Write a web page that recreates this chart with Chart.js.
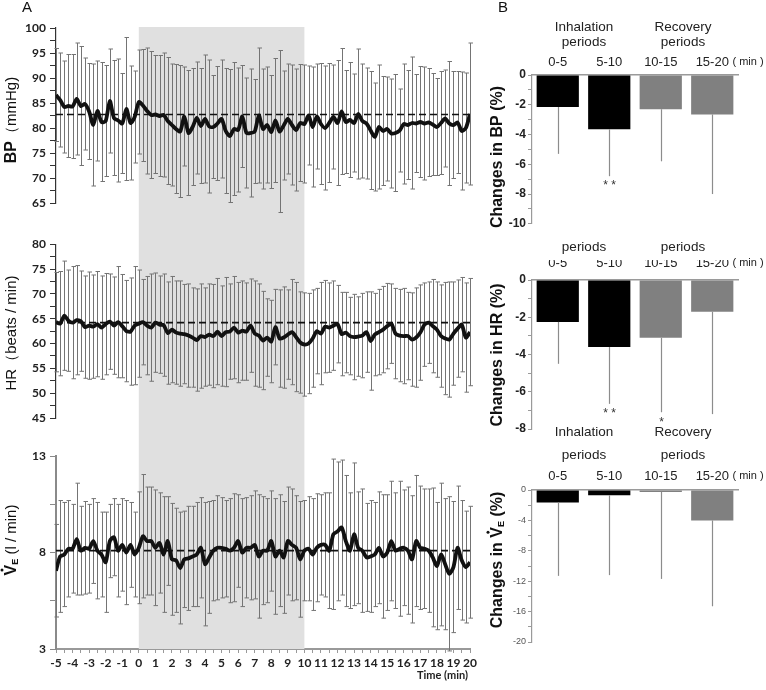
<!DOCTYPE html>
<html>
<head>
<meta charset="utf-8">
<script src="https://cdn.jsdelivr.net/npm/chart.js@4.4.1/dist/chart.umd.min.js"></script>
<style>
  body { margin: 0; background: #fff; width: 766px; height: 690px; position: relative; overflow: hidden; }
  canvas { position: absolute; }
</style>
</head>
<body>
<canvas id="bpLine" width="480" height="233" style="left:0;top:0"></canvas>
<canvas id="hrLine" width="480" height="212" style="left:0;top:233px"></canvas>
<canvas id="veLine" width="480" height="245" style="left:0;top:445px"></canvas>
<canvas id="bpBar" width="286" height="233" style="left:480px;top:0"></canvas>
<canvas id="hrBar" width="286" height="212" style="left:480px;top:233px"></canvas>
<canvas id="veBar" width="286" height="245" style="left:480px;top:445px"></canvas>
<script>
// time points (min), one every 15 s
const times = [-5,-4.75,-4.5,-4.25,-4,-3.75,-3.5,-3.25,-3,-2.75,-2.5,-2.25,-2,-1.75,-1.5,-1.25,-1,-0.75,-0.5,-0.25,
  0,0.25,0.5,0.75,1,1.25,1.5,1.75,2,2.25,2.5,2.75,3,3.25,3.5,3.75,4,4.25,4.5,4.75,
  5,5.25,5.5,5.75,6,6.25,6.5,6.75,7,7.25,7.5,7.75,8,8.25,8.5,8.75,9,9.25,9.5,9.75,
  10,10.25,10.5,10.75,11,11.25,11.5,11.75,12,12.25,12.5,12.75,13,13.25,13.5,13.75,14,14.25,14.5,14.75,
  15,15.25,15.5,15.75,16,16.25,16.5,16.75,17,17.25,17.5,17.75,18,18.25,18.5,18.75,19,19.25,19.5,19.75,20];

// Panel A - BP (mmHg)
const bpMean = [86.6,85.6,84.2,84.4,84.3,85.8,84.4,84.8,83.3,80.6,
  83.4,81.2,81.4,85.4,82.0,81.5,80.9,83.8,81.0,82.2,
  85.2,84.5,83.4,82.6,82.7,82.4,82.6,81.4,80.6,79.8,
  79.3,82.3,79.0,80.2,82.0,80.4,81.8,80.3,80.2,80.9,
  81.8,79.4,78.4,79.8,79.6,82.3,79.0,79.0,79.3,82.5,
  79.8,80.6,79.2,81.5,79.3,80.5,81.8,80.6,79.6,81.0,
  80.8,82.5,80.2,82.3,80.8,80.0,81.0,82.2,81.0,83.3,
  81.2,81.6,81.0,82.8,81.4,80.9,79.5,78.2,80.2,79.4,
  79.8,78.9,79.0,79.5,80.8,80.6,81.0,80.9,81.2,80.9,
  81.1,80.7,80.2,81.0,81.9,80.9,80.6,81.1,79.4,80.0,82.8];
const bpSD = [9.3,9.4,9.2,10.3,10.4,11.2,11.9,9.2,9.6,12.2,
  10.0,11.9,11.1,10.4,11.5,12.3,10.0,14.3,11.4,9.2,
  10.4,11.2,12.6,12.7,11.8,12.1,12.4,12.7,12.2,12.9,
  13.2,9.9,12.5,11.7,11.2,11.5,12.8,13.3,10.3,11.4,
  11.8,12.5,13.3,13.3,12.4,10.2,11.0,12.8,10.4,13.5,
  12.0,11.6,11.3,12.4,16.2,10.9,11.0,12.0,12.2,11.7,
  11.8,9.9,12.0,10.5,12.1,12.4,11.9,10.4,12.5,12.6,
  10.3,11.5,9.8,13.0,11.4,11.1,11.8,10.8,12.4,10.9,
  10.4,10.9,11.7,8.3,12.0,10.9,13.2,9.8,11.1,11.3,
  10.8,10.2,9.7,10.3,9.7,12.4,10.7,10.2,11.8,11.0,14.2];
const bpBase = 82.7;

// Panel A - HR (beats / min)
const hrMean = [64.3,64.0,65.6,64.6,64.2,64.7,64.5,63.3,63.6,63.4,
  63.9,63.2,63.9,64.4,63.6,64.3,63.5,62.5,62.4,63.6,
  64.0,64.3,63.6,63.2,64.2,63.8,63.7,62.1,62.8,62.2,
  62.0,61.9,61.6,61.2,60.7,61.5,61.3,61.8,61.5,62.4,
  61.5,62.3,62.4,63.2,62.2,62.6,62.4,63.6,62.0,61.6,
  60.6,61.2,60.4,63.3,61.0,61.2,61.8,62.3,61.3,60.2,
  59.8,60.0,61.0,62.5,62.0,63.4,63.2,63.6,63.9,61.9,
  62.2,61.5,61.3,61.4,61.6,62.3,60.5,61.8,62.3,62.8,
  63.5,64.0,62.0,61.6,61.5,61.5,60.8,61.2,62.2,63.8,
  64.2,63.5,62.8,61.5,61.0,60.8,62.0,63.0,63.8,61.2,62.3];
const hrSD = [10.0,10.5,11.0,10.2,11.3,11.0,10.1,10.3,10.8,10.4,
  10.6,10.4,10.2,9.6,9.8,11.2,10.4,10.2,10.8,11.9,
  10.8,8.6,9.9,10.8,10.0,9.8,10.3,10.3,10.7,10.4,
  10.6,10.0,10.4,10.0,10.3,10.5,9.9,10.2,10.4,10.7,
  10.1,11.0,9.6,10.3,10.1,10.0,9.8,9.4,10.6,10.4,
  9.9,7.8,8.3,7.6,9.8,10.2,9.0,10.6,11.0,10.2,
  10.4,10.1,9.8,8.6,10.3,9.3,9.0,9.0,7.8,8.4,
  8.1,7.8,8.6,8.0,8.5,8.1,9.9,8.3,8.6,8.7,
  8.6,8.0,9.1,9.3,9.6,8.8,9.4,10.0,9.6,8.4,
  8.2,9.4,9.6,10.3,11.3,11.6,10.4,9.8,9.5,11.0,10.8];
const hrBase = 64.2;

// Panel A - VE (l / min)
const veMean = [7.06,7.8,7.9,8.2,8.2,8.7,8.1,8.25,8.2,8.6,
  8.1,7.9,7.5,8.6,8.8,8.1,8.4,8.0,8.4,7.9,
  8.25,8.85,8.6,8.6,8.25,8.5,7.9,8.6,7.65,7.6,
  7.2,7.65,7.7,7.8,7.9,8.25,7.4,7.75,8.1,8.25,
  8.25,8.2,8.1,8.25,8.6,8.0,8.25,8.25,8.4,7.8,
  8.1,8.1,8.6,7.8,8.1,7.75,8.6,8.4,8.25,7.65,
  8.1,8.2,7.9,8.25,8.4,8.4,8.1,8.95,9.1,9.3,
  8.6,8.1,8.95,8.25,8.1,7.75,7.8,7.9,8.25,7.8,
  8.0,8.6,8.1,8.2,8.25,8.1,7.65,8.6,8.25,8.2,
  8.1,7.75,7.3,7.9,7.4,6.9,7.25,8.25,7.6,7.25,7.5];
const veSD = [2.4,2.9,2.7,2.5,2.3,2.9,2.3,2.4,2.3,2.2,
  2.5,2.2,2.6,1.9,2.0,2.4,2.4,2.7,2.2,2.2,
  2.9,3.2,2.8,2.8,3.0,2.6,3.0,2.3,2.9,2.7,
  2.9,2.5,2.7,2.6,2.7,2.6,3.2,2.9,2.6,2.7,
  2.6,2.5,2.7,2.8,2.4,2.8,2.6,2.7,2.8,3.2,
  2.8,2.7,2.6,3.0,2.9,2.9,2.8,2.9,2.7,3.0,
  2.6,2.7,2.9,2.8,2.6,2.7,3.0,3.9,3.6,3.5,
  3.4,3.0,3.7,2.9,3.2,2.8,2.9,2.7,2.9,3.2,
  3.0,3.1,3.0,3.5,3.0,3.3,3.3,3.4,3.2,3.1,
  3.2,3.6,3.3,3.7,3.4,4.0,3.4,3.2,3.1,2.9,2.9];
const veBase = 8.1;

// Panel B - changes (%) per period
const periods = ['0-5', '5-10', '10-15', '15-20'];
const bpChange = [-2.15, -3.65, -2.3, -2.65];
const bpChangeSD = [3.15, 3.15, 3.5, 5.35];
const bpStars = ['', '* *', '', ''];
const hrChange = [-2.25, -3.6, -3.1, -1.7];
const hrChangeSD = [2.25, 3.05, 4.0, 5.5];
const hrStars = ['', '* *', '*', ''];
const veChange = [-1.65, -0.7, -0.25, -4.0];
const veChangeSD = [9.65, 10.5, 11.45, 11.3];
const veStars = ['', '', '', ''];
const barColors = ['#000', '#000', '#808080', '#808080'];

const SANS = 'Liberation Sans, Arial, sans-serif';

// draw text made of pieces (for bold parts, subscripts and the dot over V)
function drawParts(ctx, cx, cy, parts, rotated) {
  ctx.save();
  ctx.translate(cx, cy);
  if (rotated) ctx.rotate(-Math.PI / 2);
  ctx.textBaseline = 'middle';
  ctx.textAlign = 'left';
  ctx.fillStyle = '#111';
  let total = 0;
  parts.forEach(p => { ctx.font = p.font; p.w = ctx.measureText(p.text).width; total += p.w; });
  let x = -total / 2;
  parts.forEach(p => {
    ctx.font = p.font;
    ctx.fillText(p.text, x, p.dy || 0);
    if (p.dot) {
      ctx.beginPath();
      ctx.arc(x + p.w / 2, -p.dot, 1.5, 0, Math.PI * 2);
      ctx.fill();
    }
    x += p.w;
  });
  ctx.restore();
}

function textPlugin(items) {
  return {
    id: 'texts',
    afterDraw(chart) {
      const ctx = chart.ctx;
      items.forEach(it => {
        if (it.parts) { drawParts(ctx, it.x, it.y, it.parts, it.rot); return; }
        ctx.save();
        ctx.font = it.font;
        ctx.fillStyle = it.color || '#222';
        ctx.textAlign = it.align || 'center';
        ctx.textBaseline = 'middle';
        ctx.fillText(it.t, it.x, it.y);
        ctx.restore();
      });
    }
  };
}

// grey inhalation band + SD bars behind the mean line
function bandPlugin(mean, sd, fromTop, toBottom) {
  return {
    id: 'band',
    beforeDatasetsDraw(chart) {
      const { ctx, chartArea, scales: { x, y } } = chart;
      const x0 = x.getPixelForValue(0), x1 = x.getPixelForValue(10);
      const top = fromTop ? chartArea.top - 1 : 0;
      const bottom = toBottom ? chartArea.bottom : chart.height;
      ctx.save();
      ctx.fillStyle = '#e0e0e0';
      ctx.fillRect(x0, top, x1 - x0, bottom - top);
      ctx.strokeStyle = '#747474';
      ctx.lineWidth = 1;
      times.forEach((t, i) => {
        const px = Math.round(x.getPixelForValue(t)) + 0.5;
        const yt = y.getPixelForValue(mean[i] + sd[i]);
        const yb = y.getPixelForValue(mean[i] - sd[i]);
        ctx.beginPath();
        ctx.moveTo(px, yt); ctx.lineTo(px, yb);
        ctx.moveTo(px - 2, yt); ctx.lineTo(px + 2.5, yt);
        ctx.moveTo(px - 2, yb); ctx.lineTo(px + 2.5, yb);
        ctx.stroke();
      });
      ctx.restore();
    }
  };
}

const tickFontA = { family: 'Lato', weight: 'bold', size: 12 };

function lineChart(id, mean, sd, base, yMin, yMax, o) {
  return new Chart(document.getElementById(id), {
    type: 'line',
    data: {
      datasets: [
        { data: times.map((t, i) => ({ x: t, y: mean[i] })), borderColor: '#111', borderWidth: 3.8,
          pointRadius: 0, tension: 0.25 },
        { data: [{ x: -5, y: base }, { x: 20, y: base }], borderColor: '#111', borderWidth: 1.6,
          borderDash: [7, 4], pointRadius: 0 }
      ]
    },
    options: {
      responsive: false, animation: false, devicePixelRatio: 1,
      layout: { padding: o.pad },
      plugins: { legend: { display: false }, tooltip: { enabled: false } },
      scales: {
        x: {
          type: 'linear', min: -5, max: 20, display: o.showX,
          ticks: { stepSize: 0.5, autoSkip: false, maxRotation: 0, padding: 3, font: tickFontA, color: '#222',
            callback: v => Number.isInteger(v) ? v : '' },
          grid: { drawOnChartArea: false, drawTicks: true, tickLength: 4, color: '#999' },
          border: { color: '#999', width: 2 },
          afterFit: s => { s.height = 20; }
        },
        y: {
          min: yMin, max: yMax,
          ticks: { stepSize: 2.5, autoSkip: false, padding: 4, font: tickFontA, color: '#222',
            callback: v => ((v - yMin) % 5 === 0 ? v : '') },
          grid: { drawOnChartArea: false, tickLength: 6, color: o.axisColor },
          border: { color: o.axisColor, width: o.axisWidth },
          afterFit: s => { s.width = 56; }
        }
      }
    },
    plugins: [bandPlugin(mean, sd, o.bandTop, o.bandBottom), textPlugin(o.texts)]
  });
}

function errPlugin(means, sds, stars) {
  return {
    id: 'errs',
    afterDatasetsDraw(chart) {
      const { ctx, scales: { y } } = chart;
      const meta = chart.getDatasetMeta(0);
      ctx.save();
      ctx.strokeStyle = '#8c8c8c';
      ctx.lineWidth = 1.2;
      ctx.fillStyle = '#333';
      ctx.font = '12px ' + SANS;
      ctx.textAlign = 'center';
      ctx.textBaseline = 'middle';
      meta.data.forEach((bar, i) => {
        const px = Math.round(bar.x) + 0.5;
        const y0 = y.getPixelForValue(means[i]);
        const y1 = y.getPixelForValue(means[i] - sds[i]);
        ctx.beginPath(); ctx.moveTo(px, y0); ctx.lineTo(px, y1); ctx.stroke();
        if (stars[i]) ctx.fillText(stars[i], px, y1 + 10);
      });
      ctx.restore();
    }
  };
}

function barChart(id, means, sds, stars, yMin, yStep, yLabelStep, o) {
  return new Chart(document.getElementById(id), {
    type: 'bar',
    data: {
      labels: periods,
      datasets: [{ data: means, backgroundColor: barColors, barPercentage: 0.82, categoryPercentage: 1 }]
    },
    options: {
      responsive: false, animation: false, devicePixelRatio: 1,
      layout: { padding: o.pad },
      plugins: { legend: { display: false }, tooltip: { enabled: false } },
      scales: {
        x: {
          position: 'top',
          grid: { display: false, drawTicks: false },
          border: { color: '#9a9a9a', width: 1.5 },
          ticks: { padding: o.xPad, font: { family: SANS, size: 13 }, color: '#222' },
          afterFit: s => { s.height = 20; }
        },
        y: {
          min: yMin, max: 0,
          ticks: { stepSize: yStep, autoSkip: false, padding: 2, font: o.yFont, color: o.yColor,
            callback: v => (v % yLabelStep === 0 ? v : '') },
          grid: { drawOnChartArea: false, tickLength: 4, color: '#9a9a9a' },
          border: { color: '#9a9a9a', width: 1.2 },
          afterFit: s => { s.width = 52; }
        }
      }
    },
    plugins: [errPlugin(means, sds, stars), textPlugin(o.texts)]
  });
}

const head = '13.5px ' + SANS;
const minFont = '11px ' + SANS;

lineChart('bpLine', bpMean, bpSD, bpBase, 65, 100, {
  pad: { left: 0, right: 10, top: 28, bottom: 10 }, showX: false, axisColor: '#333', axisWidth: 1.2,
  bandTop: true, bandBottom: false,
  texts: [
    { t: 'A', x: 27, y: 8, font: '15px ' + SANS, color: '#111' },
    { x: 12, y: 120, rot: true, parts: [
      { text: 'BP', font: 'bold 16px ' + SANS },
      { text: '（mmHg)', font: '15px ' + SANS }] }
  ]
});

lineChart('hrLine', hrMean, hrSD, hrBase, 45, 80, {
  pad: { left: 0, right: 10, top: 10, bottom: 7 }, showX: false, axisColor: '#333', axisWidth: 1.2,
  bandTop: false, bandBottom: false,
  texts: [
    { x: 12, y: 100, rot: true, parts: [{ text: 'HR（beats / min)', font: '15px ' + SANS }] }
  ]
});

lineChart('veLine', veMean, veSD, veBase, 3, 13, {
  pad: { left: 0, right: 10, top: 9, bottom: 21 }, showX: true, axisColor: '#8a8a8a', axisWidth: 2,
  bandTop: false, bandBottom: true,
  texts: [
    { x: 12, y: 95, rot: true, parts: [
      { text: 'V', font: 'bold 16px ' + SANS, dot: 10 },
      { text: 'E', font: 'bold 9px ' + SANS, dy: 4 },
      { text: ' (l / min)', font: '15px ' + SANS }] },
    { t: 'Time (min)', x: 468, y: 230, align: 'right', font: 'bold 11px Lato', color: '#222' }
  ]
});

barChart('bpBar', bpChange, bpChangeSD, bpStars, -10, 1, 2, {
  pad: { left: 0, right: 28, top: 55, bottom: 7 }, xPad: 5,
  yFont: { family: SANS, weight: 'bold', size: 12 }, yColor: '#222',
  texts: [
    { t: 'B', x: 23, y: 8, font: '15px ' + SANS, color: '#111' },
    { t: 'Inhalation', x: 104, y: 27, font: head },
    { t: 'periods', x: 104, y: 42, font: head },
    { t: 'Recovery', x: 203, y: 27, font: head },
    { t: 'periods', x: 203, y: 42, font: head },
    { t: '( min )', x: 268, y: 62, font: minFont },
    { x: 18, y: 157, rot: true, parts: [{ text: 'Changes in BP (%)', font: 'bold 16px ' + SANS }] }
  ]
});

barChart('hrBar', hrChange, hrChangeSD, hrStars, -8, 1, 2, {
  pad: { left: 0, right: 28, top: 27, bottom: 16 }, xPad: 9,
  yFont: { family: SANS, weight: 'bold', size: 12 }, yColor: '#222',
  texts: [
    { t: 'periods', x: 104, y: 14, font: head },
    { t: 'periods', x: 203, y: 14, font: head },
    { t: '( min )', x: 268, y: 30, font: minFont },
    { t: 'Inhalation', x: 104, y: 199, font: head },
    { t: 'Recovery', x: 203, y: 199, font: head },
    { x: 18, y: 122, rot: true, parts: [{ text: 'Changes in HR (%)', font: 'bold 16px ' + SANS }] }
  ]
});

barChart('veBar', veChange, veChangeSD, veStars, -20, 2, 4, {
  pad: { left: 0, right: 28, top: 25, bottom: 48 }, xPad: 6,
  yFont: { family: SANS, size: 9 }, yColor: '#555',
  texts: [
    { t: 'periods', x: 104, y: 10, font: head },
    { t: 'periods', x: 203, y: 10, font: head },
    { t: '( min )', x: 268, y: 31, font: minFont },
    { x: 18, y: 115, rot: true, parts: [
      { text: 'Changes in ', font: 'bold 16px ' + SANS },
      { text: 'V', font: 'bold 16px ' + SANS, dot: 10 },
      { text: 'E', font: 'bold 9px ' + SANS, dy: 4 },
      { text: ' (%)', font: 'bold 16px ' + SANS }] }
  ]
});
</script>
</body>
</html>
